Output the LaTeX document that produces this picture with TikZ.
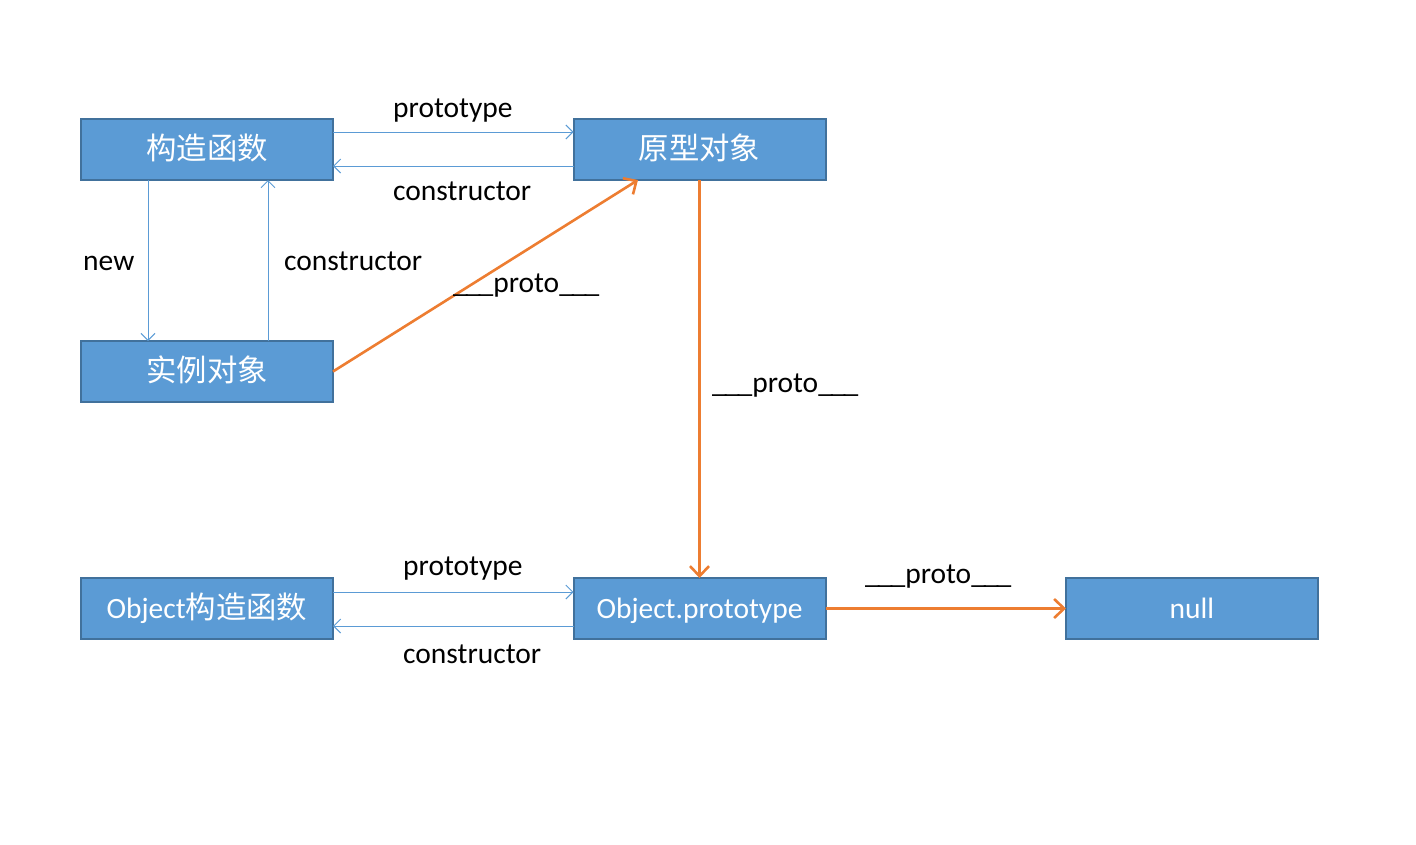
\documentclass[tikz,border=0pt]{standalone}
\usepackage{fontspec}
\setmainfont{Carlito}
\newfontfamily\cjk{Noto Sans CJK SC}[Scale=1.03]
\usetikzlibrary{arrows.meta}
\definecolor{boxfill}{HTML}{5B9BD5}
\definecolor{boxline}{HTML}{41719C}
\definecolor{orangeline}{HTML}{ED7D31}
\begin{document}
\begin{tikzpicture}[x=1pt,y=-1pt,
  box/.style={draw=boxline,line width=2pt,fill=boxfill,minimum width=252pt,minimum height=61pt,
    inner sep=0pt,outer sep=0pt,text=white,font=\fontsize{29.5}{35}\selectfont,
    text height=26.5pt,text depth=7pt},
  thin/.style={draw=boxfill,line width=1pt,-{Straight Barb[length=7pt,width=14pt,line width=1pt]}},
  thick/.style={draw=orangeline,line width=2.6pt,-{Straight Barb[length=10pt,width=19pt,line width=2.6pt]}},
  lbl/.style={anchor=base west,inner sep=0pt,font=\fontsize{29.5}{35}\selectfont}]
\useasboundingbox (0,0) rectangle (1416,844);
\node[box] (b1) at (207,149.5) {\cjk 构造函数};
\node[box] (b2) at (699.5,149.5) {\cjk 原型对象};
\node[box] (b3) at (207,371.5) {\cjk 实例对象};
\node[box] (b4) at (207,608.5) {Object{\cjk 构造函数}};
\node[box] (b5) at (699.5,608.5) {Object.prototype};
\node[box] (b6) at (1192,608.5) {null};
% thin arrows
\draw[thin] ([yshift=17.5pt]b1.east) -- ([yshift=17.5pt]b2.west);
\draw[thin] ([yshift=-16.5pt]b2.west) -- ([yshift=-16.5pt]b1.east);
\draw[thin] ([xshift=-59pt]b1.south) -- ([xshift=-59pt]b3.north);
\draw[thin] ([xshift=61pt]b3.north) -- ([xshift=61pt]b1.south);
\draw[thin] ([yshift=16.5pt]b4.east) -- ([yshift=16.5pt]b5.west);
\draw[thin] ([yshift=-17.5pt]b5.west) -- ([yshift=-17.5pt]b4.east);
% orange arrows
\draw[thick] (b3.east) -- ([xshift=-61.5pt]b2.south);
\draw[thick] (b2.south) -- (b5.north);
\draw[thick] (b5.east) -- (b6.west);
% labels
\node[lbl] (l1) at (393,117) {prototype};
\node[lbl] (l2) at (393,200) {constructor};
\node[lbl] (l3) at (83,270) {new};
\node[lbl] (l4) at (284,270) {constructor};
\node[lbl] (l5) at (453,292) {\_\kern-2pt\_\kern-2pt\_proto\_\kern-2pt\_\kern-2pt\_};
\node[lbl] (l6) at (712,392) {\_\kern-2pt\_\kern-2pt\_proto\_\kern-2pt\_\kern-2pt\_};
\node[lbl] (l7) at (403,575) {prototype};
\node[lbl] (l8) at (403,663) {constructor};
\node[lbl] (l9) at (865,583) {\_\kern-2pt\_\kern-2pt\_proto\_\kern-2pt\_\kern-2pt\_};
\end{tikzpicture}
\end{document}
